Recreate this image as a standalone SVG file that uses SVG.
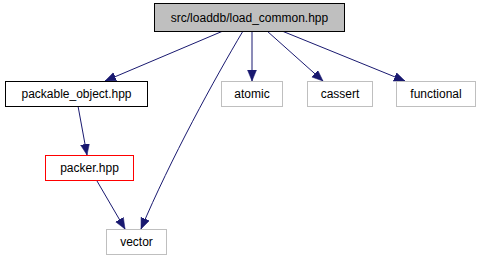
<svg xmlns="http://www.w3.org/2000/svg" width="481" height="261" viewBox="0 0 481 261">
  <style>
    .node rect { stroke-width: 1; }
    .main rect { fill: #bfbfbf; stroke: #000000; }
    .doc rect { fill: #ffffff; stroke: #000000; }
    .ext rect { fill: #ffffff; stroke: #bfbfbf; }
    .bad rect { fill: #ffffff; stroke: #ff0000; }
    .node text { font-family: "Liberation Sans", Arial, Helvetica, sans-serif; font-size: 12px; fill: #000000; text-anchor: middle; }
    .edges path { fill: none; stroke: #191970; stroke-width: 1; marker-end: url(#arrow); }
  </style>
  <defs>
    <marker id="arrow" markerUnits="userSpaceOnUse" markerWidth="12" markerHeight="10" refX="11" refY="4.5" orient="auto">
      <path d="M0,0 L11,4.5 L0,9 z" fill="#191970" stroke="#191970" stroke-width="0.5"/>
    </marker>
  </defs>
  <rect width="481" height="261" fill="#ffffff"/>

  <g class="edges" id="edges">
    <path d="M223,31 L105,81"/>
    <path d="M243,31 C215,78 170,160 141,229"/>
    <path d="M252,31 L252,81"/>
    <path d="M267,31 L323,81"/>
    <path d="M282,31 L405,81"/>
    <path d="M78,106 L87,155"/>
    <path d="M97,181 L125,229"/>
  </g>

  <g class="node main" id="load_common">
    <rect x="154.5" y="3.5" width="190" height="28"/>
    <text x="249.5" y="22">src/loaddb/load_common.hpp</text>
  </g>
  <g class="node doc" id="packable_object">
    <rect x="5.5" y="81.5" width="142" height="25"/>
    <text x="76.5" y="98">packable_object.hpp</text>
  </g>
  <g class="node ext" id="atomic">
    <rect x="221.5" y="81.5" width="61" height="25"/>
    <text x="252" y="98">atomic</text>
  </g>
  <g class="node ext" id="cassert">
    <rect x="307.5" y="81.5" width="65" height="25"/>
    <text x="340" y="98">cassert</text>
  </g>
  <g class="node ext" id="functional">
    <rect x="396.5" y="81.5" width="79" height="25"/>
    <text x="436" y="98">functional</text>
  </g>
  <g class="node bad" id="packer">
    <rect x="45.5" y="155.5" width="88" height="25"/>
    <text x="89.5" y="172">packer.hpp</text>
  </g>
  <g class="node ext" id="vector">
    <rect x="106.5" y="229.5" width="60" height="25"/>
    <text x="136.5" y="246">vector</text>
  </g>
</svg>
